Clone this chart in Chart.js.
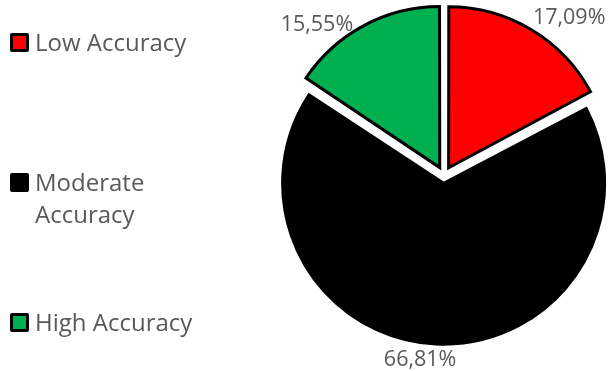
<!DOCTYPE html>
<html>
<head>
<meta charset="utf-8">
<script src="https://cdn.jsdelivr.net/npm/chart.js@4"></script>
<style>
	html, body { margin: 0; padding: 0; background: #fff; overflow: hidden; }
	#wrap { position: relative; width: 608px; height: 371px; }
	#accuracy-chart { position: absolute; left: 0; top: 0; }
	.legend-item { position: absolute; left: 10px; display: flex; align-items: flex-start; font-family: 'Open Sans', sans-serif; font-size: 24px; line-height: 32px; color: #595959; }
	.legend-box { width: 13px; height: 13px; border: 3px solid #000; border-radius: 2px; margin-top: 7px; margin-right: 6px; flex: none; }
</style>
</head>
<body>
<div id="wrap">
	<canvas id="accuracy-chart" width="608" height="371"></canvas>
	<div id="legend"></div>
</div>
<script>
const categories = ['Low Accuracy', 'Moderate Accuracy', 'High Accuracy'];
const legendLines = [['Low Accuracy'], ['Moderate', 'Accuracy'], ['High Accuracy']];
const shares = [17.09, 66.81, 15.55];
const sliceColors = ['#ff0000', '#000000', '#00b050'];

// explode distance per slice (Chart.js moves a slice by offset / 4)
const sliceOffsets = [36, 31, 36];

// where each percentage label sits: angle from 12 o'clock, gap past the rim
const labelPlacement = [
	{ angle: 38.4, gap: 40.5 },
	{ angle: 187.4, gap: 24.6 },
	{ angle: -40.1, gap: 36.3 },
];

(function () {
	const $chart = document.getElementById('accuracy-chart');
	const $legend = document.getElementById('legend');

	legendLines.forEach((lines, i) => {
		const item = document.createElement('div');
		item.className = 'legend-item';
		item.style.top = (26 + i * 140) + 'px';
		const box = document.createElement('span');
		box.className = 'legend-box';
		box.style.background = sliceColors[i];
		const text = document.createElement('span');
		text.innerHTML = lines.join('<br>');
		item.appendChild(box);
		item.appendChild(text);
		$legend.appendChild(item);
	});

	// Chart.js also grows an offset slice's radius (a lot for the big one),
	// take that back out so every slice keeps the same radius
	const sameRadius = {
		id: 'sameRadius',
		afterDatasetUpdate(chart, args) {
			args.meta.data.forEach((arc, i) => {
				const shift = sliceOffsets[i] / 4;
				const fix = 1 - Math.sin(Math.min(Math.PI, arc.circumference));
				arc.outerRadius -= shift * fix;
			});
		},
	};

	const percentLabels = {
		id: 'percentLabels',
		afterDatasetsDraw(chart) {
			const { ctx } = chart;
			const meta = chart.getDatasetMeta(0);
			const radius = meta.controller.outerRadius;
			ctx.save();
			ctx.font = '21.5px "Open Sans", sans-serif';
			ctx.fillStyle = '#595959';
			ctx.textAlign = 'center';
			ctx.textBaseline = 'middle';
			meta.data.forEach((arc, i) => {
				const p = labelPlacement[i];
				const a = p.angle * Math.PI / 180;
				const d = radius + p.gap;
				const text = shares[i].toFixed(2).replace('.', ',') + '%';
				ctx.fillText(text, arc.x + Math.sin(a) * d, arc.y - Math.cos(a) * d);
			});
			ctx.restore();
		},
	};

	const data = {
		labels: categories,
		datasets: [
			{
				data: shares,
				backgroundColor: sliceColors,
				borderColor: '#000000',
				borderWidth: 3,
				borderJoinStyle: 'miter',
				offset: sliceOffsets,
				hoverOffset: 0,
			},
		],
	};

	const config = {
		type: 'pie',
		data: data,
		options: {
			responsive: false,
			animation: false,
			radius: 161,
			layout: {
				padding: { left: 280, right: 0, top: 8, bottom: 28 },
			},
			plugins: {
				legend: { display: false },
				tooltip: { enabled: false },
			},
		},
		plugins: [sameRadius, percentLabels],
	};

	new Chart($chart, config);
})();
</script>
</body>
</html>
